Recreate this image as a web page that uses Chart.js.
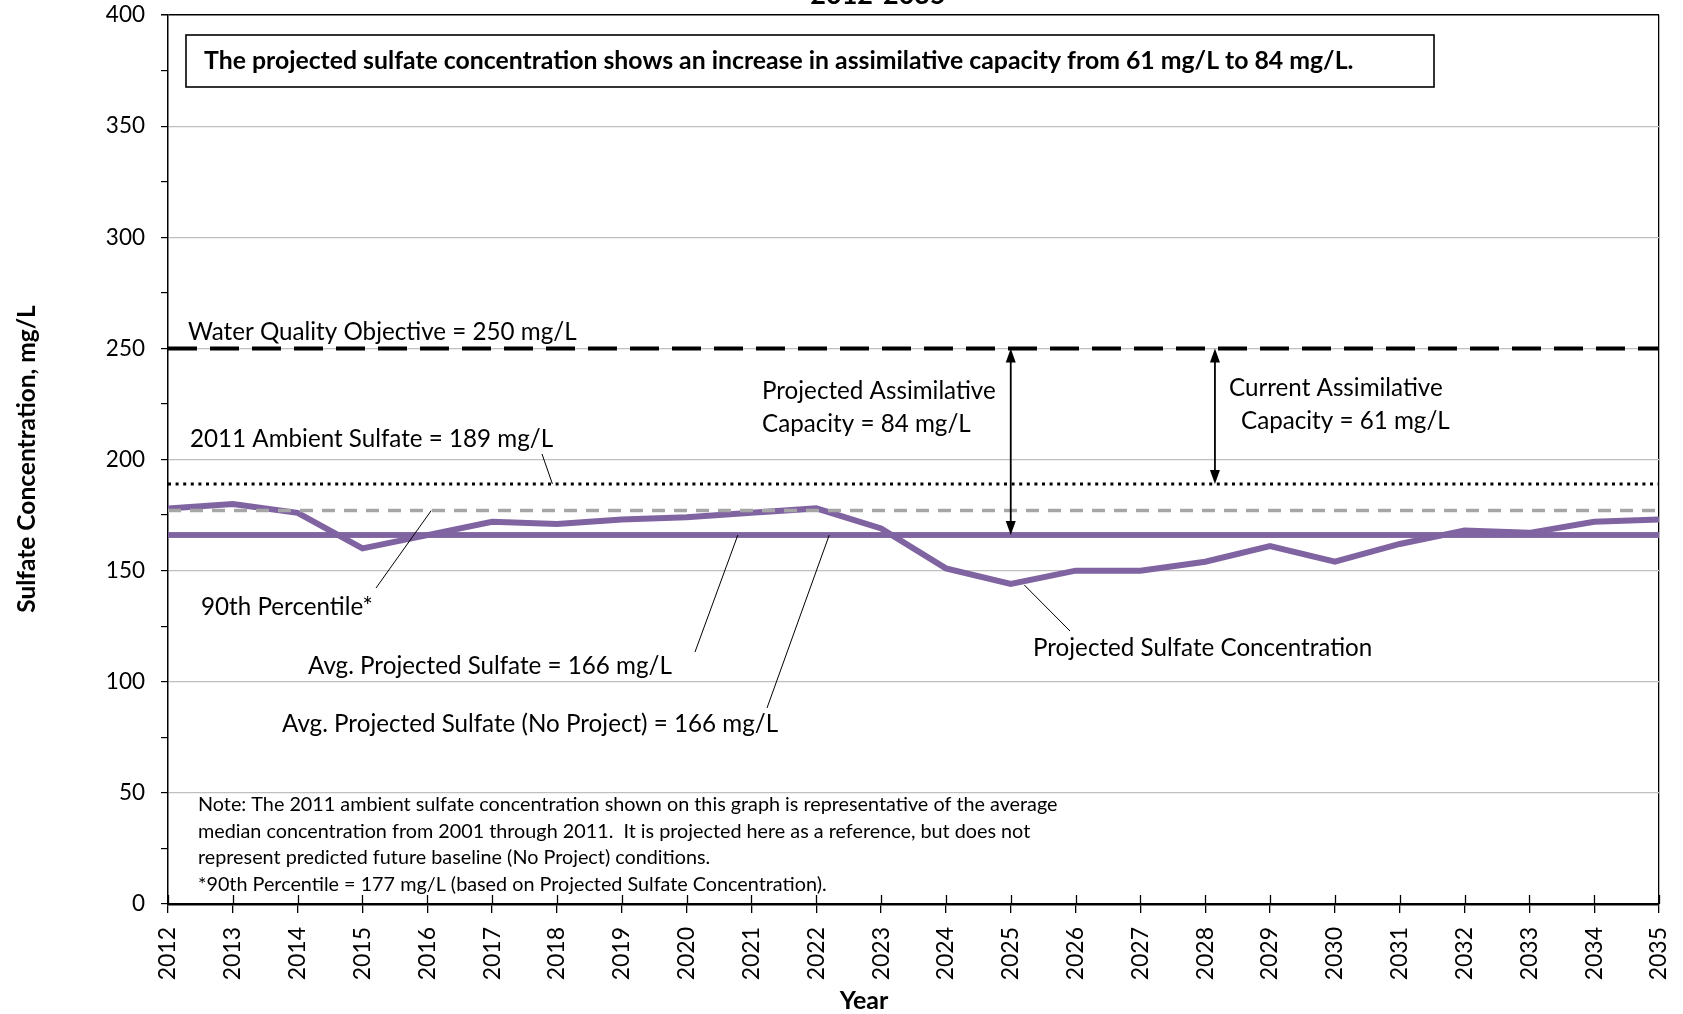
<!DOCTYPE html>
<html><head><meta charset="utf-8">
<script src="https://cdn.jsdelivr.net/npm/chart.js@4.4.0/dist/chart.umd.min.js"></script>
<style>html,body{margin:0;padding:0;background:#fff;overflow:hidden}</style>
</head><body>
<canvas id="c" width="1683" height="1014"></canvas>
<script>
// ---- data ----
const years = [2012,2013,2014,2015,2016,2017,2018,2019,2020,2021,2022,2023,2024,2025,2026,2027,2028,2029,2030,2031,2032,2033,2034,2035];
const projectedSulfate = [178,180,176,160,166,172,171,173,174,176,178,169,151,144,150,150,154,161,154,162,168,167,172,173];
const waterQualityObjective = 250;
const ambient2011 = 189;
const percentile90 = 177;
const avgProjected = 166;
const avgNoProject = 166;
const yTickValues = [0,50,100,150,200,250,300,350,400];
const chartTitle = '2012-2035';
const xTitle = 'Year';
const yTitle = 'Sulfate Concentration, mg/L';
const boxText = 'The projected sulfate concentration shows an increase in assimilative capacity from 61 mg/L to 84 mg/L.';
const noteLines = [
  'Note: The 2011 ambient sulfate concentration shown on this graph is representative of the average',
  'median concentration from 2001 through 2011.  It is projected here as a reference, but does not',
  'represent predicted future baseline (No Project) conditions.',
  '*90th Percentile = 177 mg/L (based on Projected Sulfate Concentration).'
];

const FONT = 'Lato, "Open Sans", sans-serif';
const PURPLE = '#8064A2';
const first = years[0], last = years[years.length-1];
const hline = v => [{x:first,y:v},{x:last,y:v}];

const annot = {
  id:'annot',
  afterDraw(chart){
    const ctx = chart.ctx, xs = chart.scales.x, ys = chart.scales.y;
    const X = v => xs.getPixelForValue(v), Y = v => ys.getPixelForValue(v);
    const ca = chart.chartArea;
    ctx.save();
    // x tick marks above axis
    ctx.strokeStyle = '#000'; ctx.lineWidth = 1.3;
    years.forEach(yr => { const px = Math.round(X(yr))+0.5; ctx.beginPath(); ctx.moveTo(px, ca.bottom-9); ctx.lineTo(px, ca.bottom); ctx.stroke(); });

    const text = (s, x, y, size, bold, align) => {
      ctx.font = (bold?'bold ':'') + size + 'px ' + FONT;
      ctx.fillStyle = '#000'; ctx.textAlign = align || 'left'; ctx.textBaseline = 'middle';
      ctx.fillText(s, x, y);
    };
    const seg = (x1,y1,x2,y2,w) => { ctx.strokeStyle='#000'; ctx.lineWidth=w||1; ctx.beginPath(); ctx.moveTo(x1,y1); ctx.lineTo(x2,y2); ctx.stroke(); };
    const head = (x, y, dir) => { // dir -1 up, +1 down
      ctx.fillStyle='#000'; ctx.beginPath(); ctx.moveTo(x, y); ctx.lineTo(x-5, y - dir*14); ctx.lineTo(x+5, y - dir*14); ctx.closePath(); ctx.fill();
    };
    const arrow = (xv, v1, v2) => {
      const x = X(xv), y1 = Y(v1), y2 = Y(v2);
      seg(x, y1+6, x, y2-6, 1.8);
      head(x, y1, -1); head(x, y2, 1);
    };
    arrow(2025, waterQualityObjective, avgProjected);
    arrow(2028.15, waterQualityObjective, ambient2011);

    // box
    ctx.strokeStyle = '#000'; ctx.lineWidth = 1.6;
    ctx.strokeRect(186, 35, 1248, 52);
    text(boxText, 204, 61, 24.8, true);

    // annotations
    const S = 24.2;
    text('Water Quality Objective = 250 mg/L', 188, 332, S);
    text('2011 Ambient Sulfate = 189 mg/L', 190, 439, S);
    seg(542, 454, X(2017.93), Y(ambient2011), 1);
    text('90th Percentile*', 201, 607, S);
    seg(376, 588, X(2016.06), Y(percentile90), 1);
    text('Avg. Projected Sulfate = 166 mg/L', 308, 666, S);
    seg(695, 652, X(2020.79), Y(avgProjected), 1);
    text('Avg. Projected Sulfate (No Project) = 166 mg/L', 282, 724, S);
    seg(767, 708, X(2022.2), Y(avgNoProject), 1);
    text('Projected Assimilative', 762, 391, S);
    text('Capacity = 84 mg/L', 762, 424, S);
    text('Current Assimilative', 1229, 388, S);
    text('Capacity = 61 mg/L', 1241, 421, S);
    text('Projected Sulfate Concentration', 1033, 648, S);
    seg(1070, 631, X(2025.21), Y(143.5), 1);

    noteLines.forEach((l, i) => text(l, 198, 805 + i*26.5, 19.8));

    // titles
    ctx.font = 'bold 27px ' + FONT; ctx.textAlign='center'; ctx.textBaseline='alphabetic'; ctx.fillStyle='#000';
    ctx.fillText(chartTitle, 878, 4);
    text(xTitle, 864, 1001, 25, true, 'center');
    ctx.save(); ctx.translate(27, 459); ctx.rotate(-Math.PI/2);
    text(yTitle, 0, 0, 24.5, true, 'center');
    ctx.restore();
    ctx.restore();
  }
};

new Chart(document.getElementById('c'), {
  type:'line',
  data:{ datasets:[
    {label:'90th Percentile', data:hline(percentile90), borderColor:'#A6A6A6', borderWidth:3.5, borderDash:[13,9]},
    {label:'2011 Ambient Sulfate', data:hline(ambient2011), borderColor:'#000', borderWidth:3, borderDash:[3,4.6]},
    {label:'Water Quality Objective', data:hline(waterQualityObjective), borderColor:'#000', borderWidth:4, borderDash:[29,13]},
    {label:'Projected Sulfate Concentration', data:years.map((yr,i)=>({x:yr,y:projectedSulfate[i]})), borderColor:PURPLE, borderWidth:6},
    {label:'Avg. Projected Sulfate', data:hline(avgProjected), borderColor:PURPLE, borderWidth:5.5},
    {label:'Avg. Projected Sulfate (No Project)', data:hline(avgNoProject), borderColor:PURPLE, borderWidth:5.5}
  ]},
  options:{
    responsive:false, animation:false, devicePixelRatio:1,
    layout:{padding:{left:0,right:24,top:15,bottom:0}},
    elements:{point:{radius:0}, line:{tension:0, borderJoinStyle:'miter'}},
    plugins:{legend:{display:false}, tooltip:{enabled:false}},
    scales:{
      x:{type:'linear', min:first, max:last,
        afterBuildTicks: s => { s.ticks = years.map(v=>({value:v})); },
        ticks:{autoSkip:false, minRotation:90, maxRotation:90, padding:14, color:'#000', font:{family:FONT, size:23}, callback:v=>String(v)},
        grid:{color:c => (c.tick && c.tick.value===last) ? '#000' : 'rgba(0,0,0,0)', tickColor:'#000', tickLength:9, lineWidth:1.3},
        border:{color:'#000', width:2.5},
        afterFit: s => { s.height = 110; s.paddingLeft = 0; s.paddingRight = 0; s.paddingTop = 0; s.paddingBottom = 0; }
      },
      y:{min:0, max:400,
        afterBuildTicks: s => { const t=[]; for (let i=0;i<yTickValues.length;i++){ t.push({value:yTickValues[i]}); if(i<yTickValues.length-1) t.push({value:(yTickValues[i]+yTickValues[i+1])/2, minor:true}); } s.ticks=t; },
        ticks:{padding:16, color:'#000', font:{family:FONT, size:22.5}, callback:v => yTickValues.includes(v) ? String(v) : ''},
        grid:{color:c => { const v=c.tick && c.tick.value; if(v===400) return '#000'; if(v>0 && yTickValues.includes(v)) return '#BFBFBF'; return 'rgba(0,0,0,0)'; }, tickColor:'#000', tickLength:7, lineWidth:c => (c.tick && c.tick.value===400) ? 1.5 : 1.2},
        border:{color:'#000', width:1.5},
        afterFit: s => { s.width = 168; s.paddingTop = 0; s.paddingBottom = 0; s.paddingLeft = 0; s.paddingRight = 0; }
      }
    }
  },
  plugins:[annot]
});
</script>
</body></html>
